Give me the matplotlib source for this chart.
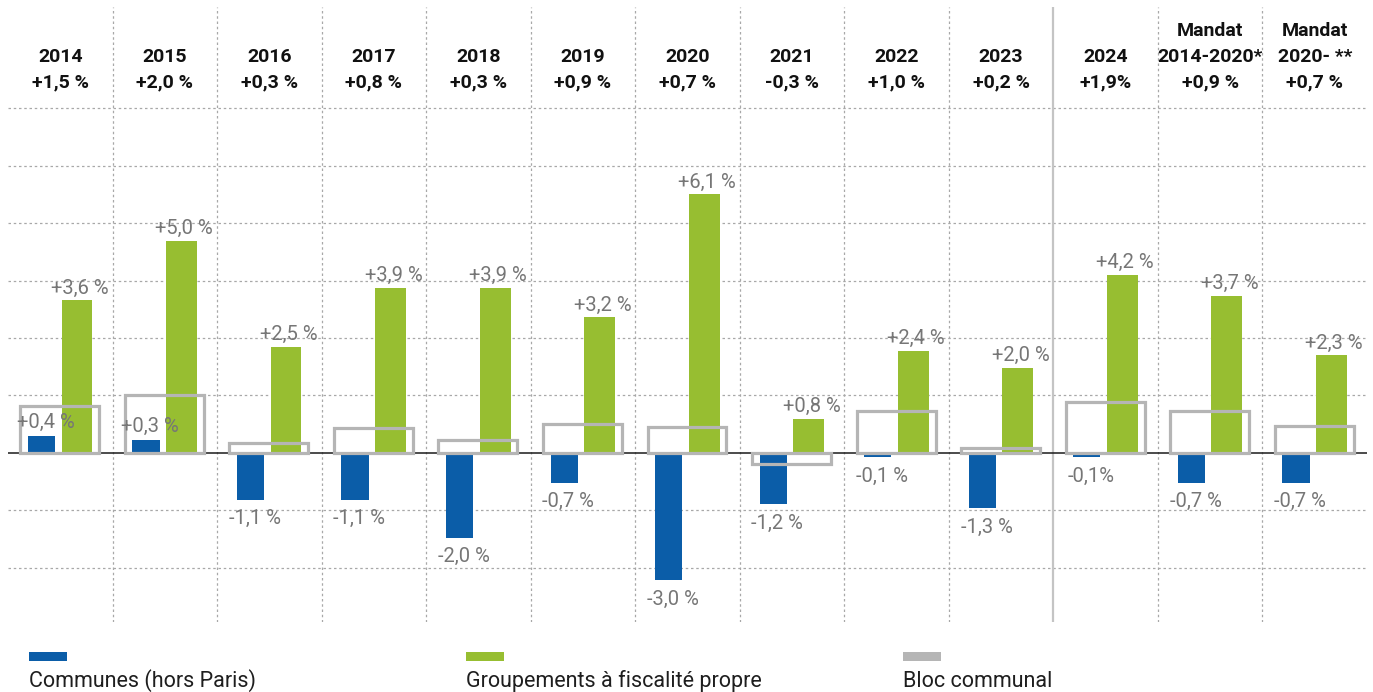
import matplotlib
matplotlib.use("Agg")
import matplotlib.pyplot as plt
from matplotlib.patches import Rectangle
import matplotlib.transforms as mtransforms

plt.rcParams['font.family'] = ['Roboto', 'DejaVu Sans']

# data
years = ["2014", "2015", "2016", "2017", "2018", "2019", "2020", "2021",
         "2022", "2023", "2024", "Mandat\n2014-2020*", "Mandat\n2020- **"]
bloc_labels = ["+1,5 %", "+2,0 %", "+0,3 %", "+0,8 %", "+0,3 %", "+0,9 %", "+0,7 %",
               "-0,3 %", "+1,0 %", "+0,2 %", "+1,9%", "+0,9 %", "+0,7 %"]
communes = [0.4, 0.3, -1.1, -1.1, -2.0, -0.7, -3.0, -1.2, -0.1, -1.3, -0.1, -0.7, -0.7]
communes_labels = ["+0,4 %", "+0,3 %", "-1,1 %", "-1,1 %", "-2,0 %", "-0,7 %", "-3,0 %",
                   "-1,2 %", "-0,1 %", "-1,3 %", "-0,1%", "-0,7 %", "-0,7 %"]
groupements = [3.6, 5.0, 2.5, 3.9, 3.9, 3.2, 6.1, 0.8, 2.4, 2.0, 4.2, 3.7, 2.3]
groupements_labels = ["+3,6 %", "+5,0 %", "+2,5 %", "+3,9 %", "+3,9 %", "+3,2 %", "+6,1 %",
                      "+0,8 %", "+2,4 %", "+2,0 %", "+4,2 %", "+3,7 %", "+2,3 %"]
# the grey boxes in the source are not drawn to the header scale, heights read off the picture
bloc_box = [1.1, 1.37, 0.24, 0.59, 0.3, 0.68, 0.61, -0.26, 0.99, 0.12, 1.2, 0.99, 0.64]

legend_labels = ["Communes (hors Paris)", "Groupements à fiscalité propre", "Bloc communal"]

BLUE = "#0b5da8"
GREEN = "#97be31"
GREY = "#b5b5b5"
LABEL = "#767676"

W, H = 1373, 692
fig = plt.figure(figsize=(W / 100, H / 100), dpi=100)
ax = fig.add_axes([8 / W, 70 / H, 1359 / W, 615 / H])
ax.set_xlim(-0.5, 12.5)
ax.set_ylim(-3.99, 10.52)
ax.axis('off')

# grid
step = 1.355
for k in [-2, -1, 1, 2, 3, 4, 5, 6]:
    ax.axhline(k * step, color="#a8a8a8", lw=0.9, ls=(0, (2, 2.2)), zorder=0)
for i in range(12):
    if i == 9:
        ax.axvline(i + 0.5, color="#c4c4c4", lw=1.6, zorder=0)
    else:
        ax.axvline(i + 0.5, color="#a8a8a8", lw=0.9, ls=(0, (2, 2.2)), zorder=0)
ax.axhline(0, color="#1a1a1a", lw=1.1, zorder=1)

x = list(range(len(years)))
ax.bar([i - 0.18 for i in x], communes, width=0.26, color=BLUE, zorder=2)
ax.bar([i + 0.16 for i in x], groupements, width=0.295, color=GREEN, zorder=2)
ax.bar([i - 0.005 for i in x], bloc_box, width=0.755, facecolor="none",
       edgecolor=GREY, linewidth=2.3, zorder=3)

# value labels
for i in x:
    ax.annotate(groupements_labels[i], (i + 0.16, groupements[i]), xytext=(2, 2),
                textcoords="offset points", ha="center", va="bottom",
                fontsize=14.5, color=LABEL, zorder=4)
    if communes[i] >= 0:
        ax.annotate(communes_labels[i], (i - 0.18, communes[i]), xytext=(3, 3),
                    textcoords="offset points", ha="center", va="bottom",
                    fontsize=14.5, color=LABEL, zorder=4)
    else:
        ax.annotate(communes_labels[i], (i - 0.18, communes[i]), xytext=(3, -7),
                    textcoords="offset points", ha="center", va="top",
                    fontsize=14.5, color=LABEL, zorder=4)

# header
trans = mtransforms.blended_transform_factory(ax.transData, ax.transAxes)
for i in x:
    ax.text(i, 0.862, years[i] + "\n" + bloc_labels[i], transform=trans,
            ha="center", va="bottom", multialignment="center", linespacing=1.58,
            fontsize=14, fontweight="bold", color="#111111")

# legend
for j, (lab, col) in enumerate(zip(legend_labels, [BLUE, GREEN, GREY])):
    x0 = [29, 466, 903][j]
    fig.add_artist(Rectangle((x0 / W, 31 / H), 38 / W, 9 / H, transform=fig.transFigure,
                             facecolor=col, edgecolor="none"))
    fig.text(x0 / W, 5 / H, lab, ha="left", va="baseline", fontsize=15.5, color="#1e1e1e")

fig.savefig("out.png", dpi=100)
